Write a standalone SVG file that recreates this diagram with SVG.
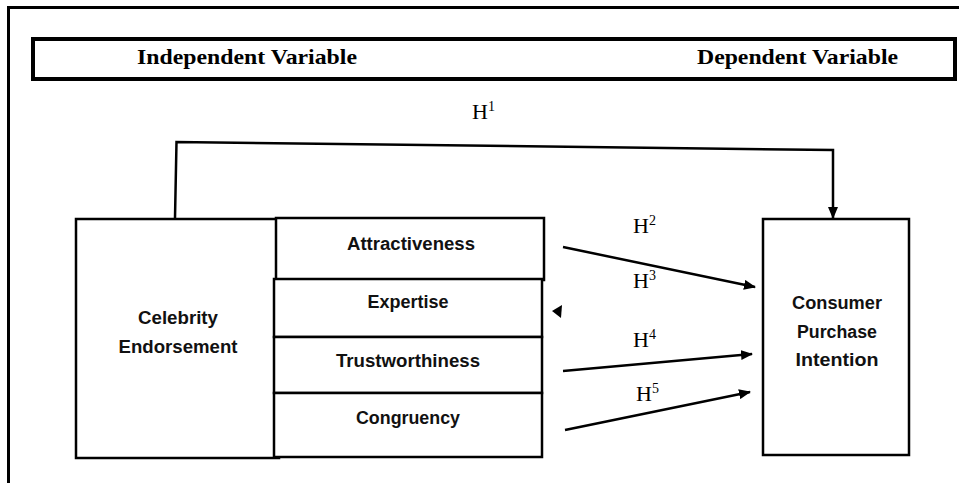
<svg xmlns="http://www.w3.org/2000/svg" width="959" height="483" viewBox="0 0 959 483">
<style>
.box{fill:#fff;stroke:#000;stroke-width:2.5}
.lbl{font-family:"Liberation Sans",Arial,sans-serif;font-weight:bold;font-size:18px;fill:#111;text-anchor:middle}
.hdr{font-family:"Liberation Serif","Times New Roman",serif;font-weight:bold;font-size:21px;fill:#000}
.h{font-family:"Liberation Serif","Times New Roman",serif;font-size:22px;fill:#000}
.sup{font-size:14px}
.con{fill:none;stroke:#000;stroke-width:2.5}
</style>
<defs>
<marker id="ah" markerWidth="12" markerHeight="10" refX="11" refY="5" orient="auto" markerUnits="userSpaceOnUse">
<path d="M0,0 L12,5 L0,10 Z" fill="#000"/>
</marker>
</defs>
<rect width="959" height="483" fill="#fff"/>
<g id="frame">
<path d="M8.5,483 V7.5 H959" fill="none" stroke="#000" stroke-width="3"/>
</g>
<g id="header">
<rect x="33" y="39" width="922" height="40" fill="#fff" stroke="#000" stroke-width="4"/>
<text class="hdr" x="137" y="64" textLength="220" lengthAdjust="spacingAndGlyphs">Independent Variable</text>
<text class="hdr" x="697" y="64" textLength="201" lengthAdjust="spacingAndGlyphs">Dependent Variable</text>
</g>
<g id="celebrity">
<rect class="box" x="76" y="219" width="203" height="239"/>
<text class="lbl" x="178" y="324" textLength="80" lengthAdjust="spacingAndGlyphs">Celebrity</text>
<text class="lbl" x="178" y="353" textLength="119" lengthAdjust="spacingAndGlyphs">Endorsement</text>
</g>
<g id="attractiveness">
<rect class="box" x="276" y="218" width="268" height="62"/>
<text class="lbl" x="411" y="250" textLength="128" lengthAdjust="spacingAndGlyphs">Attractiveness</text>
</g>
<g id="expertise">
<rect class="box" x="274" y="279" width="268" height="58"/>
<text class="lbl" x="408" y="308" textLength="81" lengthAdjust="spacingAndGlyphs">Expertise</text>
</g>
<g id="trustworthiness">
<rect class="box" x="274" y="337" width="268" height="56"/>
<text class="lbl" x="408" y="367" textLength="144" lengthAdjust="spacingAndGlyphs">Trustworthiness</text>
</g>
<g id="congruency">
<rect class="box" x="274" y="393" width="268" height="64"/>
<text class="lbl" x="408" y="424" textLength="104" lengthAdjust="spacingAndGlyphs">Congruency</text>
</g>
<g id="consumer">
<rect class="box" x="763" y="219" width="146" height="236"/>
<text class="lbl" x="837" y="309" textLength="90" lengthAdjust="spacingAndGlyphs">Consumer</text>
<text class="lbl" x="837" y="338" textLength="80" lengthAdjust="spacingAndGlyphs">Purchase</text>
<text class="lbl" x="837" y="366" textLength="83" lengthAdjust="spacingAndGlyphs">Intention</text>
</g>
<g id="connectors">
<path class="con" d="M175,218 L176.5,142 L833,150 L833,218" marker-end="url(#ah)"/>
<line class="con" x1="563" y1="247" x2="755" y2="287" marker-end="url(#ah)"/>
<line class="con" x1="563" y1="371" x2="752" y2="354" marker-end="url(#ah)"/>
<line class="con" x1="565" y1="430" x2="750" y2="392" marker-end="url(#ah)"/>
<path d="M552,311 L562,305 L561,318 Z" fill="#000"/>
</g>
<g id="labels">
<text class="h" x="472" y="119">H<tspan class="sup" dy="-8">1</tspan></text>
<text class="h" x="633" y="233">H<tspan class="sup" dy="-8">2</tspan></text>
<text class="h" x="633" y="288">H<tspan class="sup" dy="-8">3</tspan></text>
<text class="h" x="633" y="347">H<tspan class="sup" dy="-8">4</tspan></text>
<text class="h" x="636" y="401">H<tspan class="sup" dy="-8">5</tspan></text>
</g>
</svg>
